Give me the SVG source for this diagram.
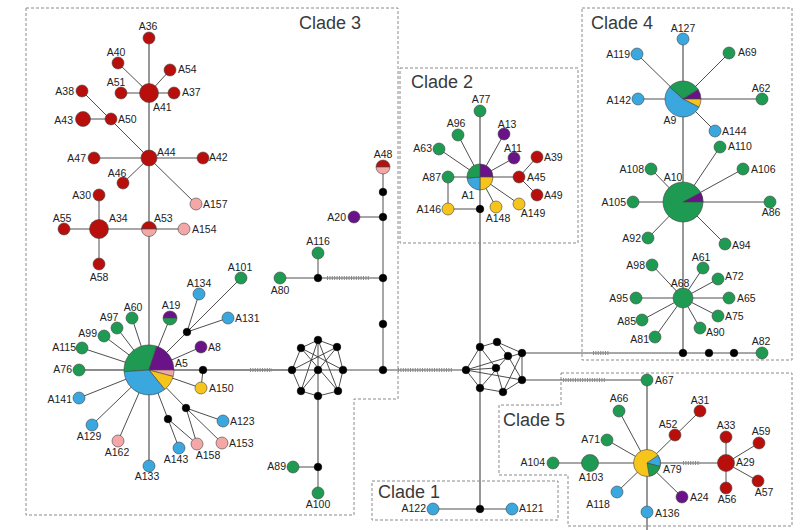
<svg xmlns="http://www.w3.org/2000/svg" width="800" height="530" viewBox="0 0 800 530">
<style>
text{font-family:"Liberation Sans",Arial,sans-serif;fill:#222}
.l{font-size:10.5px}
.c{font-size:18px;fill:#3a3a3a}
.as{text-anchor:start}.am{text-anchor:middle}.ae{text-anchor:end}
.box{fill:none;stroke:#8a8a8a;stroke-width:1;stroke-dasharray:3 2}
.e{stroke:#3a3a3a;stroke-width:0.9;fill:none}
.t{stroke:#8c8c8c;stroke-width:1.8;fill:none}
.h{stroke:#888;stroke-width:4;stroke-dasharray:1 1.4;fill:none}
circle,path.n{stroke:#444;stroke-width:0.6}
.r{fill:#b80f0c}.p{fill:#f4a7a7}.g{fill:#1f9a52}.b{fill:#3aa7de}.v{fill:#6a1288}.y{fill:#f6c41b}.k{fill:#000;stroke:#000}
</style>
<rect width="800" height="530" fill="#fff"/>
<g id="clades">
<path class="box" d="M26,8 H398 V399 H354 V515 H26 Z"/>
<rect class="box" x="400" y="68" width="178" height="175"/>
<path class="box" d="M582,8 H792 V360 H582 Z"/>
<path class="box" d="M561,373 H792 V526 H568 V475 H499 V405 H561 Z"/>
<rect class="box" x="372" y="481" width="186" height="39"/>
<text class="c" x="299" y="29">Clade 3</text>
<text class="c" x="411" y="88">Clade 2</text>
<text class="c" x="591" y="29">Clade 4</text>
<text class="c" x="503" y="426">Clade 5</text>
<text class="c" x="378" y="498">Clade 1</text>
</g>
<g id="connectors">
<!-- clade 3 top -->
<line class="t" x1="149" y1="38" x2="149" y2="370"/>
<line class="e" x1="118" y1="63" x2="149" y2="93"/>
<line class="e" x1="170" y1="70" x2="149" y2="93"/>
<line class="e" x1="121" y1="93" x2="174" y2="93"/>
<line class="e" x1="82" y1="91" x2="149" y2="158"/>
<line class="e" x1="83" y1="119" x2="111" y2="119"/>
<line class="e" x1="94" y1="158" x2="203" y2="158"/>
<line class="e" x1="123" y1="183" x2="149" y2="158"/>
<line class="e" x1="149" y1="158" x2="196" y2="204"/>
<line class="e" x1="99" y1="195" x2="99" y2="264"/>
<line class="e" x1="64" y1="229" x2="184" y2="229"/>
<!-- A5 star -->
<line class="e" x1="149" y1="370" x2="132" y2="318"/>
<line class="e" x1="149" y1="370" x2="117" y2="328"/>
<line class="e" x1="149" y1="370" x2="104" y2="336"/>
<line class="e" x1="149" y1="370" x2="82" y2="348"/>
<line class="t" x1="149" y1="370" x2="79" y2="370"/>
<line class="e" x1="149" y1="370" x2="79" y2="398"/>
<line class="e" x1="149" y1="370" x2="92" y2="425"/>
<line class="e" x1="149" y1="370" x2="118" y2="441"/>
<line class="t" x1="149" y1="370" x2="149" y2="466"/>
<line class="e" x1="149" y1="370" x2="168" y2="419"/>
<line class="e" x1="149" y1="370" x2="186" y2="408"/>
<line class="e" x1="149" y1="370" x2="201" y2="388"/>
<line class="e" x1="149" y1="370" x2="201" y2="347"/>
<line class="e" x1="149" y1="370" x2="170" y2="318"/>
<line class="e" x1="149" y1="370" x2="187" y2="332"/>
<line class="e" x1="187" y1="332" x2="199" y2="294"/>
<line class="e" x1="187" y1="332" x2="241" y2="278"/>
<line class="e" x1="187" y1="332" x2="228" y2="318"/>
<line class="e" x1="168" y1="419" x2="179" y2="448"/>
<line class="e" x1="168" y1="419" x2="197" y2="444"/>
<line class="e" x1="186" y1="408" x2="223" y2="421"/>
<line class="e" x1="186" y1="408" x2="222" y2="443"/>
<line class="e" x1="186" y1="408" x2="197" y2="444"/>
<line class="e" x1="203" y1="370" x2="201" y2="388"/>
<line class="t" x1="149" y1="370" x2="292" y2="370"/>
<line class="h" x1="250" y1="370" x2="272" y2="370"/>
<!-- left cluster -->
<path class="e" d="M292,370 L301,348 L318,340 L337,347 L343,370 L338,391 L318,396 L301,391 Z M292,370 H343 M318,340 V396 M301,348 L343,370 M301,348 L338,391 M337,347 L292,370 M337,347 L301,391 M318,340 L301,391 M318,340 L338,391"/>
<line class="e" x1="343" y1="370" x2="466" y2="370"/>
<line class="h" x1="398" y1="370" x2="453" y2="370"/>
<line class="e" x1="383" y1="167" x2="383" y2="370"/>
<line class="e" x1="354" y1="217" x2="383" y2="217"/>
<line class="e" x1="280" y1="278" x2="383" y2="278"/>
<line class="h" x1="327" y1="278" x2="370" y2="278"/>
<line class="e" x1="318" y1="253" x2="318" y2="278"/>
<line class="t" x1="318" y1="396" x2="318" y2="467"/>
<line class="e" x1="318" y1="467" x2="318" y2="493"/>
<line class="e" x1="293" y1="467" x2="318" y2="467"/>
<!-- right cluster -->
<path class="e" d="M466,370 L480,347 L497,342 L522,353 L522,380 L503,392 L480,388 Z M497,342 L508,356 L522,380 M480,347 L496,368 L503,392 M480,347 L480,388 M466,370 L522,353 M466,370 L522,380 M508,356 L480,388 M522,353 L503,392 M466,370 L496,368"/>
<line class="t" x1="480" y1="111" x2="480" y2="347"/>
<line class="t" x1="480" y1="388" x2="480" y2="509"/>
<line class="e" x1="433" y1="509" x2="512" y2="509"/>
<line class="e" x1="522" y1="353" x2="762" y2="353"/>
<line class="h" x1="593" y1="353" x2="609" y2="353"/>
<line class="e" x1="522" y1="380" x2="647" y2="380"/>
<line class="h" x1="563" y1="380" x2="605" y2="380"/>
<!-- clade 2 -->
<line class="e" x1="480" y1="177" x2="458" y2="135"/>
<line class="e" x1="480" y1="177" x2="439" y2="149"/>
<line class="e" x1="480" y1="177" x2="504" y2="134"/>
<line class="e" x1="480" y1="177" x2="514" y2="158"/>
<line class="e" x1="448" y1="177" x2="519" y2="177"/>
<line class="e" x1="519" y1="177" x2="537" y2="157"/>
<line class="e" x1="519" y1="177" x2="537" y2="195"/>
<line class="e" x1="448" y1="177" x2="448" y2="209"/>
<line class="e" x1="448" y1="209" x2="480" y2="209"/>
<line class="e" x1="480" y1="177" x2="496" y2="207"/>
<line class="e" x1="480" y1="177" x2="519" y2="204"/>
<!-- clade 4 -->
<line class="t" x1="683" y1="39" x2="683" y2="353"/>
<line class="e" x1="637" y1="54" x2="683" y2="99"/>
<line class="e" x1="729" y1="53" x2="683" y2="99"/>
<line class="e" x1="638" y1="99" x2="762" y2="99"/>
<line class="e" x1="683" y1="99" x2="715" y2="131"/>
<line class="e" x1="683" y1="202" x2="720" y2="147"/>
<line class="e" x1="683" y1="202" x2="651" y2="169"/>
<line class="e" x1="683" y1="202" x2="743" y2="169"/>
<line class="e" x1="633" y1="202" x2="770" y2="202"/>
<line class="e" x1="683" y1="202" x2="648" y2="238"/>
<line class="e" x1="683" y1="202" x2="725" y2="244"/>
<line class="e" x1="683" y1="298" x2="652" y2="265"/>
<line class="e" x1="683" y1="298" x2="703" y2="268"/>
<line class="e" x1="683" y1="298" x2="718" y2="279"/>
<line class="e" x1="636" y1="298" x2="729" y2="298"/>
<line class="e" x1="683" y1="298" x2="642" y2="320"/>
<line class="e" x1="683" y1="298" x2="718" y2="316"/>
<line class="e" x1="683" y1="298" x2="655" y2="337"/>
<line class="e" x1="683" y1="298" x2="700" y2="328"/>
<!-- clade 5 -->
<line class="t" x1="647" y1="380" x2="647" y2="530"/>
<line class="e" x1="647" y1="463" x2="619" y2="411"/>
<line class="e" x1="647" y1="463" x2="700" y2="411"/>
<line class="e" x1="647" y1="463" x2="607" y2="440"/>
<line class="e" x1="553" y1="463" x2="726" y2="463"/>
<line class="h" x1="683" y1="463" x2="700" y2="463"/>
<line class="e" x1="726" y1="437" x2="726" y2="488"/>
<line class="e" x1="726" y1="463" x2="759" y2="443"/>
<line class="e" x1="726" y1="463" x2="758" y2="481"/>
<line class="e" x1="647" y1="463" x2="617" y2="492"/>
<line class="e" x1="647" y1="463" x2="682" y2="497"/>
</g>
<g id="nodes">
<!-- Clade 3 -->
<g id="A36"><circle class="r" cx="149" cy="38" r="6"/><text class="l am" x="148" y="30">A36</text></g>
<g id="A40"><circle class="r" cx="118" cy="63" r="6"/><text class="l am" x="116" y="56">A40</text></g>
<g id="A54"><circle class="r" cx="170" cy="70" r="6"/><text class="l as" x="178" y="73">A54</text></g>
<g id="A51"><circle class="r" cx="121" cy="93" r="6"/><text class="l am" x="116" y="86">A51</text></g>
<g id="A41"><circle class="r" cx="149" cy="93" r="9.5"/><text class="l as" x="153" y="111">A41</text></g>
<g id="A37"><circle class="r" cx="174" cy="93" r="6"/><text class="l as" x="182" y="96">A37</text></g>
<g id="A38"><circle class="r" cx="82" cy="91" r="6"/><text class="l ae" x="74" y="95">A38</text></g>
<g id="A43"><circle class="r" cx="83" cy="119" r="7.5"/><text class="l ae" x="73" y="124">A43</text></g>
<g id="A50"><circle class="r" cx="111" cy="119" r="6"/><text class="l as" x="118" y="123">A50</text></g>
<g id="A44"><circle class="r" cx="149" cy="158" r="8"/><text class="l as" x="157" y="156">A44</text></g>
<g id="A47"><circle class="r" cx="94" cy="158" r="6"/><text class="l ae" x="86" y="162">A47</text></g>
<g id="A42"><circle class="r" cx="203" cy="158" r="6"/><text class="l as" x="209" y="161">A42</text></g>
<g id="A46"><circle class="r" cx="123" cy="183" r="6"/><text class="l am" x="117" y="177">A46</text></g>
<g id="A30"><circle class="r" cx="99" cy="195" r="6"/><text class="l ae" x="91" y="199">A30</text></g>
<g id="A157"><circle class="p" cx="196" cy="204" r="6"/><text class="l as" x="203" y="208">A157</text></g>
<g id="A34"><circle class="r" cx="99" cy="229" r="9.5"/><text class="l as" x="109" y="222">A34</text></g>
<g id="A55"><circle class="r" cx="64" cy="229" r="6"/><text class="l am" x="62" y="222">A55</text></g>
<g id="A58"><circle class="r" cx="99" cy="264" r="6"/><text class="l am" x="99" y="281">A58</text></g>
<g id="A53"><path class="n r" d="M141.5,229 A7.5,7.5 0 0 1 156.5,229 Z"/><path class="n p" d="M141.5,229 A7.5,7.5 0 0 0 156.5,229 Z"/><text class="l as" x="154" y="222">A53</text></g>
<g id="A154"><circle class="p" cx="184" cy="229" r="6"/><text class="l as" x="192" y="233">A154</text></g>
<g id="A101"><circle class="g" cx="241" cy="278" r="6"/><text class="l am" x="240" y="271">A101</text></g>
<g id="A134"><circle class="b" cx="199" cy="294" r="6"/><text class="l am" x="199" y="287">A134</text></g>
<g id="A131"><circle class="b" cx="228" cy="318" r="6"/><text class="l as" x="235" y="322">A131</text></g>
<g id="mv1"><circle class="k" cx="187" cy="332" r="3.8"/></g>
<g id="A19"><path class="n v" d="M163,318 A7,7 0 0 1 177,318 Z"/><path class="n g" d="M163,318 A7,7 0 0 0 177,318 Z"/><text class="l am" x="171" y="309">A19</text></g>
<g id="A60"><circle class="g" cx="132" cy="318" r="6"/><text class="l am" x="133" y="311">A60</text></g>
<g id="A97"><circle class="g" cx="117" cy="328" r="6"/><text class="l am" x="109" y="321">A97</text></g>
<g id="A99"><circle class="g" cx="104" cy="336" r="6"/><text class="l ae" x="97" y="337">A99</text></g>
<g id="A115"><circle class="g" cx="82" cy="348" r="6"/><text class="l ae" x="76" y="351">A115</text></g>
<g id="A8"><circle class="v" cx="201" cy="347" r="6"/><text class="l as" x="208" y="351">A8</text></g>
<g id="A5">
<path class="n g" d="M149,370 L124.06,371.74 A25,25 0 0 1 156.73,346.22 Z"/>
<path class="n v" d="M149,370 L156.73,346.22 A25,25 0 0 1 174,370 Z"/>
<path class="n p" d="M149,370 L174,370 A25,25 0 0 1 173.15,376.47 Z"/>
<path class="n y" d="M149,370 L173.15,376.47 A25,25 0 0 1 164.73,389.43 Z"/>
<path class="n b" d="M149,370 L164.73,389.43 A25,25 0 0 1 124.06,371.74 Z"/>
<text class="l as" x="175" y="367">A5</text></g>
<g id="A76"><circle class="g" cx="79" cy="370" r="6"/><text class="l ae" x="72" y="373">A76</text></g>
<g id="mv2"><circle class="k" cx="203" cy="370" r="3.8"/></g>
<g id="A150"><circle class="y" cx="201" cy="388" r="6"/><text class="l as" x="209" y="392">A150</text></g>
<g id="A141"><circle class="b" cx="79" cy="398" r="6"/><text class="l ae" x="72" y="403">A141</text></g>
<g id="mv3"><circle class="k" cx="186" cy="408" r="3.8"/></g>
<g id="mv4"><circle class="k" cx="168" cy="419" r="3.8"/></g>
<g id="A123"><circle class="b" cx="223" cy="421" r="6"/><text class="l as" x="230" y="425">A123</text></g>
<g id="A129"><circle class="b" cx="92" cy="425" r="6"/><text class="l am" x="89" y="440">A129</text></g>
<g id="A153"><circle class="p" cx="222" cy="443" r="6"/><text class="l as" x="229" y="447">A153</text></g>
<g id="A162"><circle class="p" cx="118" cy="441" r="6"/><text class="l am" x="117" y="456">A162</text></g>
<g id="A158"><circle class="p" cx="197" cy="444" r="6"/><text class="l am" x="208" y="459">A158</text></g>
<g id="A143"><circle class="b" cx="179" cy="448" r="6"/><text class="l am" x="176" y="463">A143</text></g>
<g id="A133"><circle class="b" cx="149" cy="466" r="6"/><text class="l am" x="147" y="480">A133</text></g>
<!-- centre -->
<g id="L1"><circle class="k" cx="292" cy="370" r="3.8"/></g>
<g id="L2"><circle class="k" cx="301" cy="348" r="3.8"/></g>
<g id="L3"><circle class="k" cx="318" cy="340" r="3.8"/></g>
<g id="L4"><circle class="k" cx="337" cy="347" r="3.8"/></g>
<g id="L5"><circle class="k" cx="343" cy="370" r="3.8"/></g>
<g id="L6"><circle class="k" cx="318" cy="370" r="3.8"/></g>
<g id="L7"><circle class="k" cx="301" cy="391" r="3.8"/></g>
<g id="L8"><circle class="k" cx="318" cy="396" r="3.8"/></g>
<g id="L9"><circle class="k" cx="338" cy="391" r="3.8"/></g>
<g id="A48"><path class="n r" d="M376,167 A7,7 0 0 1 390,167 Z"/><path class="n p" d="M376,167 A7,7 0 0 0 390,167 Z"/><text class="l am" x="383" y="158">A48</text></g>
<g id="mv5"><circle class="k" cx="383" cy="192" r="3.8"/></g>
<g id="mv6"><circle class="k" cx="383" cy="217" r="3.8"/></g>
<g id="A20"><circle class="v" cx="354" cy="217" r="6"/><text class="l ae" x="346" y="221">A20</text></g>
<g id="A116"><circle class="g" cx="318" cy="253" r="6"/><text class="l am" x="318" y="245">A116</text></g>
<g id="mv7"><circle class="k" cx="383" cy="278" r="3.8"/></g>
<g id="mv8"><circle class="k" cx="318" cy="278" r="3.8"/></g>
<g id="A80"><circle class="g" cx="280" cy="278" r="6"/><text class="l am" x="280" y="294">A80</text></g>
<g id="mv9"><circle class="k" cx="383" cy="324" r="3.8"/></g>
<g id="mv10"><circle class="k" cx="383" cy="370" r="3.8"/></g>
<g id="mv11"><circle class="k" cx="318" cy="467" r="3.8"/></g>
<g id="A89"><circle class="g" cx="293" cy="467" r="6"/><text class="l ae" x="286" y="470">A89</text></g>
<g id="A100"><circle class="g" cx="318" cy="493" r="6"/><text class="l am" x="318" y="508">A100</text></g>
<g id="R1"><circle class="k" cx="480" cy="347" r="3.8"/></g>
<g id="R2"><circle class="k" cx="497" cy="342" r="3.8"/></g>
<g id="R3"><circle class="k" cx="508" cy="356" r="3.8"/></g>
<g id="R4"><circle class="k" cx="522" cy="353" r="3.8"/></g>
<g id="R5"><circle class="k" cx="466" cy="370" r="3.8"/></g>
<g id="R6"><circle class="k" cx="496" cy="368" r="3.8"/></g>
<g id="R7"><circle class="k" cx="522" cy="380" r="3.8"/></g>
<g id="R8"><circle class="k" cx="480" cy="388" r="3.8"/></g>
<g id="R9"><circle class="k" cx="503" cy="392" r="3.8"/></g>
<!-- Clade 1 -->
<g id="A122"><circle class="b" cx="433" cy="509" r="6"/><text class="l ae" x="426" y="512">A122</text></g>
<g id="mv12"><circle class="k" cx="480" cy="509" r="3.8"/></g>
<g id="A121"><circle class="b" cx="512" cy="509" r="6"/><text class="l as" x="519" y="512">A121</text></g>
<!-- Clade 2 -->
<g id="A77"><circle class="g" cx="480" cy="111" r="6"/><text class="l am" x="481" y="103">A77</text></g>
<g id="A96"><circle class="g" cx="458" cy="135" r="6"/><text class="l am" x="456" y="127">A96</text></g>
<g id="A63"><circle class="g" cx="439" cy="149" r="6"/><text class="l ae" x="432" y="152">A63</text></g>
<g id="A13"><circle class="v" cx="504" cy="134" r="6"/><text class="l am" x="507" y="128">A13</text></g>
<g id="A11"><circle class="v" cx="514" cy="158" r="6"/><text class="l am" x="513" y="152">A11</text></g>
<g id="A39"><circle class="r" cx="537" cy="157" r="6"/><text class="l as" x="544" y="161">A39</text></g>
<g id="A87"><circle class="g" cx="448" cy="177" r="6"/><text class="l ae" x="441" y="181">A87</text></g>
<g id="A45"><circle class="r" cx="519" cy="177" r="6"/><text class="l as" x="527" y="181">A45</text></g>
<g id="A49"><circle class="r" cx="537" cy="195" r="6"/><text class="l as" x="544" y="199">A49</text></g>
<g id="A1">
<path class="n v" d="M480,177 L480,164 A13,13 0 0 1 493,177 Z"/>
<path class="n y" d="M480,177 L493,177 A13,13 0 0 1 480,190 Z"/>
<path class="n b" d="M480,177 L480,190 A13,13 0 0 1 467.05,178.13 Z"/>
<path class="n g" d="M480,177 L467.05,178.13 A13,13 0 0 1 480,164 Z"/>
<text class="l am" x="468" y="199">A1</text></g>
<g id="A146"><circle class="y" cx="448" cy="209" r="6"/><text class="l ae" x="441" y="213">A146</text></g>
<g id="mv13"><circle class="k" cx="480" cy="209" r="3.8"/></g>
<g id="A148"><circle class="y" cx="496" cy="207" r="6"/><text class="l am" x="498" y="222">A148</text></g>
<g id="A149"><circle class="y" cx="519" cy="204" r="6"/><text class="l am" x="533" y="217">A149</text></g>
<!-- Clade 4 -->
<g id="A127"><circle class="b" cx="683" cy="39" r="6"/><text class="l am" x="683" y="32">A127</text></g>
<g id="A119"><circle class="b" cx="637" cy="54" r="6"/><text class="l ae" x="630" y="58">A119</text></g>
<g id="A69"><circle class="g" cx="729" cy="53" r="6"/><text class="l as" x="738" y="56">A69</text></g>
<g id="A142"><circle class="b" cx="638" cy="99" r="6"/><text class="l ae" x="631" y="104">A142</text></g>
<g id="A62"><circle class="g" cx="762" cy="99" r="6"/><text class="l am" x="761" y="92">A62</text></g>
<g id="A9">
<path class="n g" d="M683,99 L669.62,86.96 A18,18 0 0 1 698.26,89.46 Z"/>
<path class="n v" d="M683,99 L698.26,89.46 A18,18 0 0 1 701,99 Z"/>
<path class="n y" d="M683,99 L701,99 A18,18 0 0 1 699.04,107.17 Z"/>
<path class="n b" d="M683,99 L699.04,107.17 A18,18 0 1 1 669.62,86.96 Z"/>
<text class="l am" x="670" y="124">A9</text></g>
<g id="A144"><circle class="b" cx="715" cy="131" r="6"/><text class="l as" x="722" y="135">A144</text></g>
<g id="A110"><circle class="g" cx="720" cy="147" r="6"/><text class="l as" x="728" y="150">A110</text></g>
<g id="A108"><circle class="g" cx="651" cy="169" r="6"/><text class="l ae" x="644" y="173">A108</text></g>
<g id="A106"><circle class="g" cx="743" cy="169" r="6"/><text class="l as" x="751" y="173">A106</text></g>
<g id="A10">
<circle class="g" cx="683" cy="202" r="20"/>
<path class="n v" d="M683,202 L700.66,192.62 A20,20 0 0 1 703,202 Z"/>
<text class="l am" x="673" y="181">A10</text></g>
<g id="A105"><circle class="g" cx="633" cy="202" r="6"/><text class="l ae" x="626" y="206">A105</text></g>
<g id="A86"><circle class="g" cx="770" cy="202" r="6"/><text class="l am" x="771" y="216">A86</text></g>
<g id="A92"><circle class="g" cx="648" cy="238" r="6"/><text class="l ae" x="641" y="242">A92</text></g>
<g id="A94"><circle class="g" cx="725" cy="244" r="6"/><text class="l as" x="732" y="249">A94</text></g>
<g id="A98"><circle class="g" cx="652" cy="265" r="6"/><text class="l ae" x="645" y="269">A98</text></g>
<g id="A61"><circle class="g" cx="703" cy="268" r="6"/><text class="l am" x="701" y="261">A61</text></g>
<g id="A72"><circle class="g" cx="718" cy="279" r="6"/><text class="l as" x="725" y="280">A72</text></g>
<g id="A68"><circle class="g" cx="683" cy="298" r="10"/><text class="l am" x="680" y="287">A68</text></g>
<g id="A95"><circle class="g" cx="636" cy="298" r="6"/><text class="l ae" x="628" y="302">A95</text></g>
<g id="A65"><circle class="g" cx="729" cy="298" r="6"/><text class="l as" x="737" y="302">A65</text></g>
<g id="A85"><circle class="g" cx="642" cy="320" r="6"/><text class="l ae" x="636" y="325">A85</text></g>
<g id="A75"><circle class="g" cx="718" cy="316" r="6"/><text class="l as" x="725" y="320">A75</text></g>
<g id="A90"><circle class="g" cx="700" cy="328" r="6"/><text class="l as" x="706" y="336">A90</text></g>
<g id="A81"><circle class="g" cx="655" cy="337" r="6"/><text class="l ae" x="649" y="343">A81</text></g>
<g id="mv14"><circle class="k" cx="683" cy="353" r="3.8"/></g>
<g id="mv15"><circle class="k" cx="709" cy="353" r="3.8"/></g>
<g id="mv16"><circle class="k" cx="734" cy="353" r="3.8"/></g>
<g id="A82"><circle class="g" cx="762" cy="353" r="6"/><text class="l am" x="761" y="345">A82</text></g>
<!-- Clade 5 -->
<g id="A67"><circle class="g" cx="647" cy="380" r="6"/><text class="l as" x="655" y="384">A67</text></g>
<g id="A66"><circle class="g" cx="619" cy="411" r="6"/><text class="l am" x="619" y="402">A66</text></g>
<g id="A31"><circle class="r" cx="700" cy="411" r="6"/><text class="l am" x="700" y="404">A31</text></g>
<g id="A52"><circle class="r" cx="675" cy="435" r="6"/><text class="l am" x="668" y="428">A52</text></g>
<g id="A71"><circle class="g" cx="607" cy="440" r="6"/><text class="l ae" x="600" y="443">A71</text></g>
<g id="A33"><circle class="r" cx="726" cy="437" r="6"/><text class="l am" x="726" y="429">A33</text></g>
<g id="A59"><circle class="r" cx="759" cy="443" r="6"/><text class="l am" x="761" y="435">A59</text></g>
<g id="A104"><circle class="g" cx="553" cy="463" r="6"/><text class="l ae" x="545" y="466">A104</text></g>
<g id="A103"><circle class="g" cx="590" cy="463" r="8.5"/><text class="l am" x="591" y="481">A103</text></g>
<g id="A79">
<circle class="y" cx="647" cy="463" r="13.5"/>
<path class="n b" d="M647,463 L658.06,455.25 A13.5,13.5 0 0 1 660.04,466.49 Z"/>
<path class="n g" d="M647,463 L660.04,466.49 A13.5,13.5 0 0 1 649.34,476.3 Z"/>
<text class="l as" x="663" y="473">A79</text></g>
<g id="A29"><circle class="r" cx="726" cy="463" r="8.5"/><text class="l as" x="736" y="466">A29</text></g>
<g id="A57"><circle class="r" cx="758" cy="481" r="6"/><text class="l am" x="764" y="496">A57</text></g>
<g id="A56"><circle class="r" cx="726" cy="488" r="6"/><text class="l am" x="727" y="503">A56</text></g>
<g id="A118"><circle class="b" cx="617" cy="492" r="6"/><text class="l am" x="598" y="508">A118</text></g>
<g id="A24"><circle class="v" cx="682" cy="497" r="6"/><text class="l as" x="690" y="501">A24</text></g>
<g id="A136"><circle class="b" cx="647" cy="512" r="6"/><text class="l as" x="655" y="517">A136</text></g>
</g>
</svg>
